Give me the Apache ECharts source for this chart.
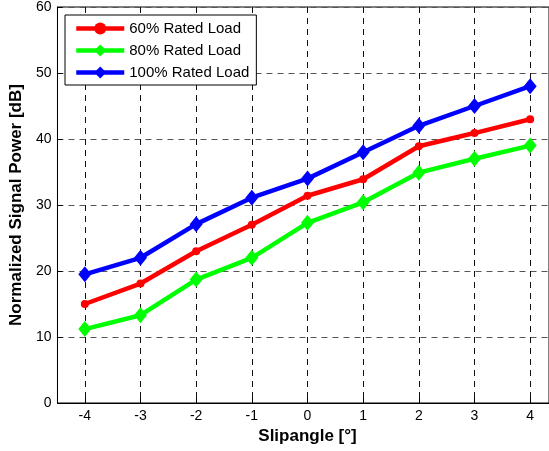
<!DOCTYPE html>
<html>
<head>
<meta charset="utf-8">
<script src="https://cdn.jsdelivr.net/npm/echarts@6/dist/echarts.min.js"></script>
<style>html,body{margin:0;padding:0;background:#fff;}#c{width:549px;height:451px;}</style>
</head>
<body>
<div id="c"></div>
<script>
const slipangles = [-4, -3, -2, -1, 0, 1, 2, 3, 4];
const load60 = [15.0, 18.1, 23.0, 27.0, 31.4, 33.9, 38.9, 40.9, 43.0];
const load80 = [11.2, 13.3, 18.7, 22.0, 27.3, 30.4, 34.9, 37.0, 39.0];
const load100 = [19.5, 22.0, 27.1, 31.1, 34.0, 38.0, 42.0, 45.0, 48.0];
const seriesNames = ['60% Rated Load', '80% Rated Load', '100% Rated Load'];
const yTicks = [0, 10, 20, 30, 40, 50, 60];

const FONT = 'Liberation Sans, Arial, sans-serif';
const pairs = v => slipangles.map((x, i) => [x, v[i]]);

const chart = echarts.init(document.getElementById('c'), null, { renderer: 'canvas' });
const gl = 57, gw = 501, gt = 7, gh = 396;
chart.setOption({
  animation: false,
  backgroundColor: '#fff',
  grid: [
    { left: gl, top: gt, width: gw, height: gh, show: true, borderColor: '#000', borderWidth: 1, backgroundColor: 'transparent' },
    { left: gl + gw / 18, top: gt, width: gw * 8 / 9, height: gh }
  ],
  xAxis: [
    { gridIndex: 0, type: 'value', min: -4.5, max: 4.5,
      axisLine: { show: true, onZero: false, lineStyle: { color: '#000', width: 1 } },
      axisTick: { show: false }, axisLabel: { show: false }, splitLine: { show: false } },
    { gridIndex: 1, type: 'value', min: slipangles[0], max: slipangles[slipangles.length - 1], interval: 1,
      axisLine: { show: false },
      axisTick: { show: true, inside: true, length: 5, lineStyle: { color: '#000' } },
      axisLabel: { margin: 6, fontSize: 14, color: '#000', fontFamily: FONT },
      splitLine: { show: true, lineStyle: { type: [6, 5], color: '#111', width: 1 } },
      name: 'Slipangle [°]', nameLocation: 'middle', nameGap: 25,
      nameTextStyle: { fontSize: 17, fontWeight: 'bold', color: '#000', fontFamily: FONT } }
  ],
  yAxis: [
    { gridIndex: 0, type: 'value', min: yTicks[0], max: yTicks[yTicks.length - 1], interval: 10,
      axisLine: { show: true, onZero: false, lineStyle: { color: '#000', width: 1 } },
      axisTick: { show: true, inside: true, length: 5, lineStyle: { color: '#000' } },
      axisLabel: { margin: 6, fontSize: 14, color: '#000', fontFamily: FONT },
      splitLine: { show: true, lineStyle: { type: [6, 5], color: '#555', width: 1 } },
      name: 'Normalized Signal Power [dB]', nameLocation: 'middle', nameGap: 30,
      nameTextStyle: { fontSize: 17, fontWeight: 'bold', color: '#000', fontFamily: FONT } },
    { gridIndex: 1, type: 'value', min: yTicks[0], max: yTicks[yTicks.length - 1], show: false }
  ],
  legend: {
    orient: 'vertical', left: 65, top: 15,
    backgroundColor: '#fff', borderColor: '#000', borderWidth: 1,
    padding: [6, 7, 5, 9], itemGap: 7, itemWidth: 48, itemHeight: 15,
    lineStyle: { width: 4.5 },
    textStyle: { fontSize: 15, color: '#000', fontFamily: FONT },
    data: seriesNames
  },
  series: [
    { name: seriesNames[0], type: 'line', xAxisIndex: 1, yAxisIndex: 1, data: pairs(load60),
      symbol: 'circle', symbolSize: 8, color: '#ff0000',
      lineStyle: { width: 4.5, color: '#ff0000' }, itemStyle: { color: '#ff0000' }, z: 3 },
    { name: seriesNames[1], type: 'line', xAxisIndex: 1, yAxisIndex: 1, data: pairs(load80),
      symbol: 'diamond', symbolSize: [13, 16], color: '#00ff00',
      lineStyle: { width: 4.5, color: '#00ff00' }, itemStyle: { color: '#00ff00' }, z: 3 },
    { name: seriesNames[2], type: 'line', xAxisIndex: 1, yAxisIndex: 1, data: pairs(load100),
      symbol: 'diamond', symbolSize: [13, 16], color: '#0000ff',
      lineStyle: { width: 4.5, color: '#0000ff' }, itemStyle: { color: '#0000ff' }, z: 3 }
  ]
});
</script>
</body>
</html>
